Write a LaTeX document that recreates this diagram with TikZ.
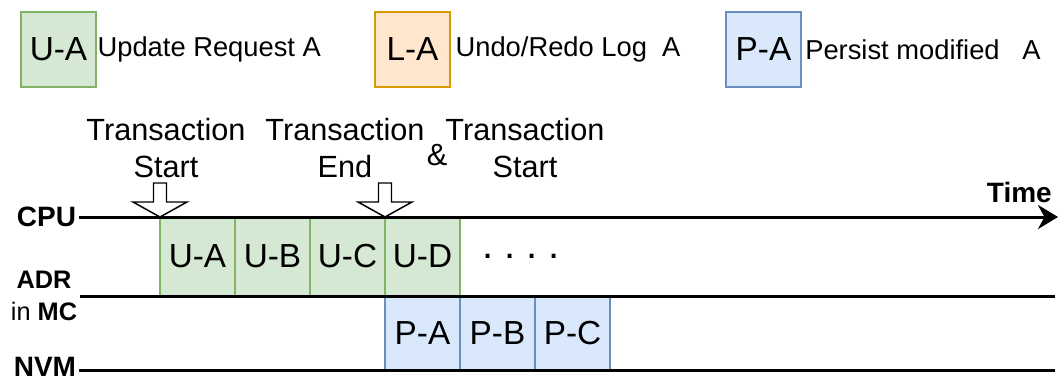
\documentclass[tikz,border=0pt]{standalone}
\usepackage{fontspec}
\setmainfont{Liberation Sans}
\usetikzlibrary{arrows.meta, positioning}
\definecolor{updfill}{HTML}{D5E8D4}
\definecolor{updline}{HTML}{82B366}
\definecolor{logfill}{HTML}{FFE6CC}
\definecolor{logline}{HTML}{D79B00}
\definecolor{perfill}{HTML}{DAE8FC}
\definecolor{perline}{HTML}{6C8EBF}

\begin{document}
\begin{tikzpicture}[
    x=0.75pt, y=-0.75pt,
    box/.style={draw, line width=1.1pt, minimum width=56.25pt, inner sep=0pt, outer sep=0pt, font=\fontsize{25}{28}\selectfont},
    ubox/.style={box, fill=updfill, draw=updline, minimum height=59pt},
    lbox/.style={box, fill=logfill, draw=logline, minimum height=56.25pt},
    pbox/.style={box, fill=perfill, draw=perline, minimum height=55.5pt},
    legtext/.style={font=\fontsize{20.5}{24}\selectfont, inner sep=0pt},
    trtext/.style={font=\fontsize{23}{28}\selectfont, align=center, inner sep=0pt},
    lanelabel/.style={font=\fontsize{21}{24}\selectfont, align=center, inner sep=2pt},
    lane/.style={line width=2.25pt},
    axis/.style={lane, -{Stealth[length=15pt, width=18pt]}},
    blockarrow/.style={draw, fill=white, line width=1.1pt, line join=miter}
]
    \useasboundingbox (0,0) rectangle (1059,381);

    % Legend
    \node[ubox, anchor=north west, minimum height=56.25pt] (lgu) at (21,12) {U-A};
    \node[legtext, right=1pt of lgu] (lgut) {Update Request A};
    \node[lbox, anchor=north west] (lgl) at (375,12) {L-A};
    \node[legtext, right=4pt of lgl] (lglt) {Undo/Redo Log\ \ A};
    \node[pbox, anchor=north west, minimum height=56.25pt] (lgp) at (726,12) {P-A};
    \node[legtext, right=3pt of lgp] (lgpt) {Persist modified\hspace{17pt}A};

    % Lanes
    \node[lanelabel, anchor=east] (cpu) at (79,217) {\bfseries CPU};
    \node[lanelabel, anchor=east, font=\fontsize{19}{24}\selectfont] (adr) at (80,296) {\textbf{ADR}\\in \textbf{MC}};
    \node[lanelabel, anchor=east] (nvm) at (79,367) {\bfseries NVM};
    \coordinate (cpuend) at (1058,217);
    \coordinate (adrend) at (1055,296);
    \coordinate (nvmend) at (1055,370);

    % Update requests
    \node[ubox, anchor=north west] (ua) at (160,217) {U-A};
    \node[ubox, right=0pt of ua] (ub) {U-B};
    \node[ubox, right=0pt of ub] (uc) {U-C};
    \node[ubox, right=0pt of uc] (ud) {U-D};
    \node[font=\fontsize{30}{30}\selectfont, right=13pt of ud] (dots) {.\ .\ .\ .};

    % Persists
    \node[pbox, anchor=north west] (pa) at (385,296) {P-A};
    \node[pbox, right=0pt of pa] (pb) {P-B};
    \node[pbox, right=0pt of pb] (pc) {P-C};

    \draw[axis] (cpu.east) -- (cpuend);
    \draw[lane] (adr.east) -- (adrend);
    \draw[lane] (nvm.east |- nvmend) -- (nvmend);
    \node[font=\bfseries\fontsize{21}{24}\selectfont, anchor=east, inner sep=0pt] (time) at (1052,192) {Time};

    % Transaction marks
    \foreach \p in {ua.north west, ud.north west}
        \draw[blockarrow] (\p) -- ++(-27,-15) -- ++(20.5,0) -- ++(0,-19) -- ++(13,0) -- ++(0,19) -- ++(20.5,0) -- cycle;
    \node[trtext] (tstart) at (166,148) {Transaction\\Start};
    \node[trtext] (tend) at (345,148) {Transaction\\End};
    \node[trtext] (amp) at (437,155) {\&};
    \node[trtext] (tnext) at (525,148) {Transaction\\Start};
\end{tikzpicture}
\end{document}
